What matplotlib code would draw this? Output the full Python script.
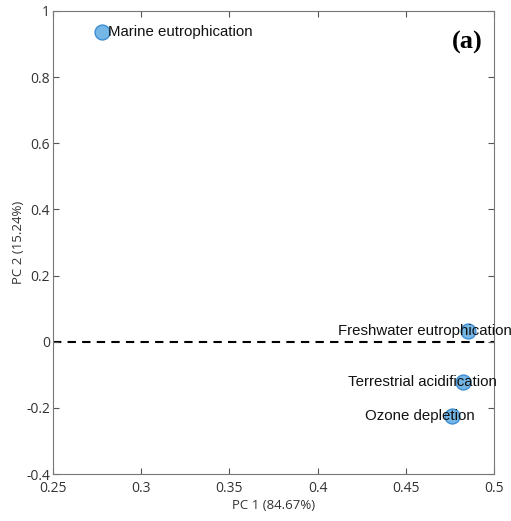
import matplotlib
matplotlib.use('Agg')
import matplotlib.pyplot as plt

# PCA loadings
names = ["Marine eutrophication", "Freshwater eutrophication",
         "Terrestrial acidification", "Ozone depletion"]
pc1 = [0.278, 0.485, 0.4825, 0.476]
pc2 = [0.936, 0.032, -0.122, -0.225]
# left edge of each label, in data x
label_x = [0.2812, 0.4116, 0.4172, 0.4269]

xticks = [0.25, 0.3, 0.35, 0.4, 0.45, 0.5]
yticks = [-0.4, -0.2, 0, 0.2, 0.4, 0.6, 0.8, 1]
GRAY = '#555555'

fig = plt.figure(figsize=(5.11, 5.21), dpi=100)
ax = fig.add_axes([0.1037, 0.0902, 0.863, 0.8887])

ax.axhline(0, color='black', ls=(0, (4, 3)), lw=1.5, zorder=1)
ax.scatter(pc1, pc2, s=115, facecolor='#74b6e6', edgecolor='#3f8ed2', lw=1.0, zorder=2)
for n, lx, y in zip(names, label_x, pc2):
    ax.text(lx, y, n, fontsize=10.8, family='Liberation Sans', va='center', ha='left',
            color='#111111', zorder=3, clip_on=False)

ax.text(0.975, 0.933, '(a)', transform=ax.transAxes, fontsize=19, fontweight='bold',
        family='Liberation Serif', ha='right', va='center')

ax.set_xlim(0.25, 0.5)
ax.set_ylim(-0.4, 1)
ax.set_xticks(xticks)
ax.set_xticklabels([f"{t:g}" for t in xticks])
ax.set_yticks(yticks)
ax.set_yticklabels([f"{t:g}" for t in yticks])
ax.tick_params(direction='in', top=True, right=True, length=4, width=0.8,
               color=GRAY, labelcolor='#333333', labelsize=10, pad=2)
ax.tick_params(axis='x', pad=5)
for lab in ax.get_xticklabels() + ax.get_yticklabels():
    lab.set_family('Open Sans')
for sp in ax.spines.values():
    sp.set_color('#777777')
    sp.set_linewidth(0.8)

ax.set_xlabel('PC 1 (84.67%)', fontsize=9.5, family='Open Sans', color='#333333', labelpad=2)
ax.set_ylabel('PC 2 (15.24%)', fontsize=9.5, family='Open Sans', color='#333333', labelpad=1)

fig.savefig('out.png', dpi=100)
